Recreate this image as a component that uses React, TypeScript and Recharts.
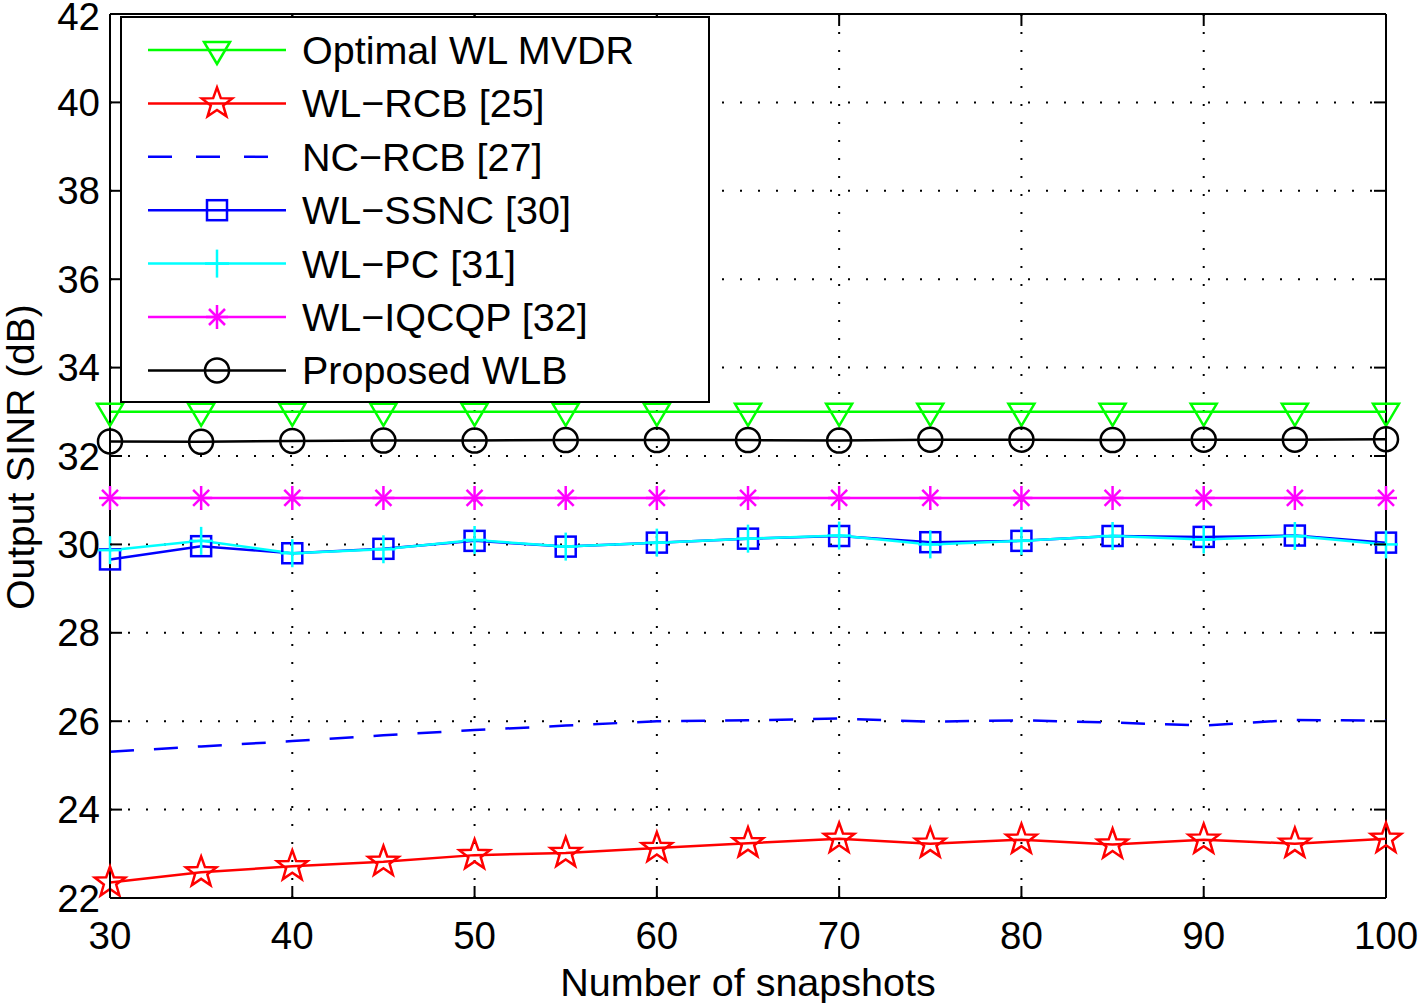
import React from "react"
import { LineChart, Line, XAxis, YAxis, CartesianGrid, Legend, ReferenceLine } from "recharts"

// number of snapshots
const snapshots = [30, 35, 40, 45, 50, 55, 60, 65, 70, 75, 80, 85, 90, 95, 100]

// output SINR (dB) per method
const optimalWlMvdr = [33.0, 33.0, 33.0, 33.0, 33.0, 33.0, 33.0, 33.0, 33.0, 33.0, 33.0, 33.0, 33.0, 33.0, 33.0]
const wlRcb = [22.35, 22.58, 22.72, 22.82, 22.97, 23.02, 23.13, 23.24, 23.34, 23.23, 23.32, 23.21, 23.32, 23.23, 23.34]
const ncRcb = [25.31, 25.43, 25.55, 25.68, 25.8, 25.9, 26.0, 26.02, 26.06, 25.99, 26.02, 25.97, 25.9, 26.03, 26.01]
const wlSsnc = [29.66, 29.96, 29.8, 29.9, 30.08, 29.95, 30.04, 30.13, 30.19, 30.05, 30.08, 30.19, 30.17, 30.2, 30.04]
const wlPc = [29.87, 30.08, 29.8, 29.89, 30.1, 29.95, 30.04, 30.13, 30.2, 30.0, 30.08, 30.19, 30.11, 30.19, 30.0]
const wlIqcqp = [31.05, 31.05, 31.05, 31.05, 31.05, 31.05, 31.05, 31.05, 31.05, 31.05, 31.05, 31.05, 31.05, 31.05, 31.05]
const proposedWlb = [32.33, 32.32, 32.34, 32.35, 32.35, 32.36, 32.36, 32.36, 32.35, 32.37, 32.37, 32.36, 32.37, 32.37, 32.38]

const xTicks = [30, 40, 50, 60, 70, 80, 90, 100]
const yTicks = [22, 24, 26, 28, 30, 32, 34, 36, 38, 40, 42]

const series = [
  { key: "opt", name: "Optimal WL MVDR", values: optimalWlMvdr, color: "#00ff00", marker: "tri" },
  { key: "rcb", name: "WL\u2212RCB [25]", values: wlRcb, color: "#ff0000", marker: "star" },
  { key: "nc", name: "NC\u2212RCB [27]", values: ncRcb, color: "#0000ff", marker: "none", dash: "24 20" },
  { key: "ssnc", name: "WL\u2212SSNC [30]", values: wlSsnc, color: "#0000ff", marker: "square" },
  { key: "pc", name: "WL\u2212PC [31]", values: wlPc, color: "#00ffff", marker: "plus" },
  { key: "iq", name: "WL\u2212IQCQP [32]", values: wlIqcqp, color: "#ff00ff", marker: "asterisk" },
  { key: "wlb", name: "Proposed WLB", values: proposedWlb, color: "#000000", marker: "circle" },
]

const data = snapshots.map((n, i) => {
  const row: Record<string, number> = { n }
  series.forEach((s) => (row[s.key] = s.values[i]))
  return row
})

const FONT = '"Liberation Sans", Arial, Helvetica, sans-serif'
const W = 1418
const H = 1003
const M = { top: 14, right: 32, bottom: 0, left: 0 }
const Y_AXIS_W = 110
const X_AXIS_H = 105
const PLOT_LEFT = M.left + Y_AXIS_W
const PLOT_RIGHT = W - M.right
const PLOT_TOP = M.top
const PLOT_BOTTOM = H - X_AXIS_H
const TICK_LEN = 12

function Marker({ kind, cx, cy, color }: { kind: string; cx: number; cy: number; color: string }) {
  const sw = 2.5
  if (kind === "tri") {
    return <polygon points={`${cx - 13},${cy - 8} ${cx + 13},${cy - 8} ${cx},${cy + 14}`} fill="none" stroke={color} strokeWidth={sw} />
  }
  if (kind === "star") {
    const pts: string[] = []
    for (let k = 0; k < 10; k++) {
      const r = k % 2 === 0 ? 16 : 6.5
      const a = -Math.PI / 2 + (k * Math.PI) / 5
      pts.push(`${cx + r * Math.cos(a)},${cy + r * Math.sin(a)}`)
    }
    return <polygon points={pts.join(" ")} fill="none" stroke={color} strokeWidth={sw} />
  }
  if (kind === "square") {
    return <rect x={cx - 10} y={cy - 10} width={20} height={20} fill="none" stroke={color} strokeWidth={sw} />
  }
  if (kind === "plus") {
    return (
      <g stroke={color} strokeWidth={sw}>
        <line x1={cx - 12} y1={cy} x2={cx + 12} y2={cy} />
        <line x1={cx} y1={cy - 14} x2={cx} y2={cy + 14} />
      </g>
    )
  }
  if (kind === "asterisk") {
    const d = 8
    return (
      <g stroke={color} strokeWidth={sw}>
        <line x1={cx - 11} y1={cy} x2={cx + 11} y2={cy} />
        <line x1={cx} y1={cy - 12} x2={cx} y2={cy + 12} />
        <line x1={cx - d} y1={cy - d} x2={cx + d} y2={cy + d} />
        <line x1={cx - d} y1={cy + d} x2={cx + d} y2={cy - d} />
      </g>
    )
  }
  if (kind === "circle") {
    return <ellipse cx={cx} cy={cy} rx={12} ry={12} fill="none" stroke={color} strokeWidth={sw} />
  }
  return null
}

const XTick = (props: any) => {
  const { x, payload } = props
  return (
    <g>
      <line x1={x} y1={PLOT_BOTTOM} x2={x} y2={PLOT_BOTTOM - TICK_LEN} stroke="#000" strokeWidth={2} />
      <line x1={x} y1={PLOT_TOP} x2={x} y2={PLOT_TOP + TICK_LEN} stroke="#000" strokeWidth={2} />
      <text x={x} y={PLOT_BOTTOM + 37} textAnchor="middle" dominantBaseline="central" fontSize={38.5} fontFamily={FONT} fill="#000">
        {payload.value}
      </text>
    </g>
  )
}

const YTick = (props: any) => {
  const { y, payload } = props
  return (
    <g>
      <line x1={PLOT_LEFT} y1={y} x2={PLOT_LEFT + TICK_LEN} y2={y} stroke="#000" strokeWidth={2} />
      <line x1={PLOT_RIGHT} y1={y} x2={PLOT_RIGHT - TICK_LEN} y2={y} stroke="#000" strokeWidth={2} />
      <text x={PLOT_LEFT - 10} y={Math.max(y, 16)} textAnchor="end" dominantBaseline="central" fontSize={38.5} fontFamily={FONT} fill="#000">
        {payload.value}
      </text>
    </g>
  )
}

// legend drawn in the series order (recharts sorts its payload by name)
const LegendBox = () => (
  <svg width={590} height={387} style={{ display: "block" }}>
    <rect x={1} y={1} width={588} height={385} fill="#fff" stroke="#000" strokeWidth={2} />
    {series.map((s, i) => {
      const cy = 34 + i * 53.4
      return (
        <g key={s.key}>
          <line x1={28} y1={cy} x2={166} y2={cy} stroke={s.color} strokeWidth={2.5} strokeDasharray={s.dash ? "24 24" : undefined} />
          <Marker kind={s.marker} cx={97} cy={cy} color={s.color} />
          <text x={182} y={cy} dominantBaseline="central" fontSize={39.5} fontFamily={FONT} fill="#000">
            {s.name}
          </text>
        </g>
      )
    })}
  </svg>
)

export default function App() {
  return (
    <div style={{ position: "absolute", left: 0, top: 0, width: W, height: H, background: "#fff" }}>
      <LineChart width={W} height={H} data={data} margin={M}>
        <CartesianGrid stroke="#000" strokeDasharray="2 16" strokeWidth={2} horizontalValues={yTicks} verticalValues={xTicks} />
        <XAxis
          dataKey="n"
          type="number"
          domain={[30, 100]}
          ticks={xTicks}
          height={X_AXIS_H}
          tickSize={0}
          tickMargin={0}
          tickLine={false}
          tick={<XTick />}
          axisLine={{ stroke: "#000", strokeWidth: 2 }}
          label={{
            value: "Number of snapshots",
            content: () => (
              <text x={(PLOT_LEFT + PLOT_RIGHT) / 2} y={982} textAnchor="middle" dominantBaseline="central" fontSize={39.5} fontFamily={FONT} fill="#000">
                Number of snapshots
              </text>
            ),
          }}
        />
        <YAxis
          type="number"
          domain={[22, 42]}
          ticks={yTicks}
          width={Y_AXIS_W}
          tickSize={0}
          tickMargin={0}
          tickLine={false}
          tick={<YTick />}
          axisLine={{ stroke: "#000", strokeWidth: 2 }}
          label={{
            value: "Output SINR (dB)",
            content: () => (
              <text x={20} y={457} transform={`rotate(-90, 20, 457)`} textAnchor="middle" dominantBaseline="central" fontSize={39} fontFamily={FONT} fill="#000">
                Output SINR (dB)
              </text>
            ),
          }}
        />
        <ReferenceLine x={100} stroke="#000" strokeWidth={2} ifOverflow="visible" />
        <ReferenceLine y={42} stroke="#000" strokeWidth={2} ifOverflow="visible" />
        {series.map((s) => (
          <Line
            key={s.key}
            dataKey={s.key}
            name={s.name}
            type="linear"
            stroke={s.color}
            strokeWidth={2.5}
            strokeDasharray={s.dash}
            isAnimationActive={false}
            dot={(p: any) => <Marker key={`${s.key}-${p.index}`} kind={s.marker} cx={p.cx} cy={p.cy} color={s.color} />}
            activeDot={false}
          />
        ))}
        <Legend
          layout="horizontal"
          align="center"
          verticalAlign="middle"
          content={<LegendBox />}
          wrapperStyle={{ position: "absolute", left: 120, top: 16, width: 590, height: 387 }}
        />
      </LineChart>
    </div>
  )
}
